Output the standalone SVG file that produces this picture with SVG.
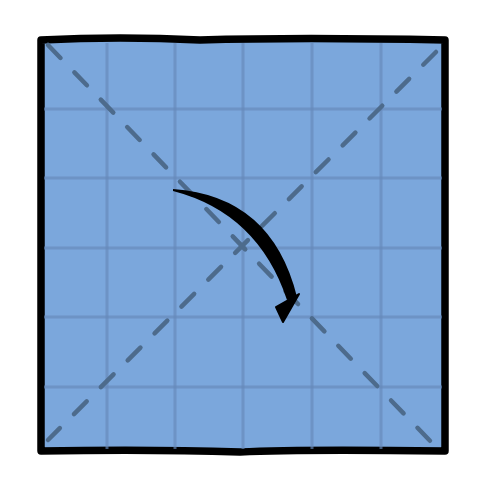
<svg xmlns="http://www.w3.org/2000/svg" width="484" height="500" viewBox="0 0 484 500">
<style>
.grid{stroke:#6688b8;stroke-width:3;fill:none;opacity:0.65}
.diag{stroke:#4d6b8c;stroke-width:4.5;stroke-linecap:round;stroke-dasharray:18 20;fill:none}
</style>
<rect width="484" height="500" fill="#ffffff"/>
<g id="square">
<path d="M41,40 Q120,36 200,40 Q300,37 445,40 L445,451 Q300,449 240,452 Q150,449 41,451 Z" fill="#7ba7dc" stroke="#000" stroke-width="7.5" stroke-linejoin="round"/>
</g>
<g id="grid">
<line class="grid" x1="107" y1="43" x2="107" y2="449"/>
<line class="grid" x1="175" y1="43" x2="175" y2="449"/>
<line class="grid" x1="243" y1="43" x2="243" y2="449"/>
<line class="grid" x1="312" y1="43" x2="312" y2="449"/>
<line class="grid" x1="381" y1="43" x2="381" y2="449"/>
<line class="grid" x1="44" y1="109" x2="442" y2="109"/>
<line class="grid" x1="44" y1="178" x2="442" y2="178"/>
<line class="grid" x1="44" y1="248" x2="442" y2="248"/>
<line class="grid" x1="44" y1="317" x2="442" y2="317"/>
<line class="grid" x1="44" y1="387" x2="442" y2="387"/>
</g>
<g id="connectors">
<line class="diag" x1="48" y1="45" x2="436" y2="447"/>
<line class="diag" x1="436" y1="52" x2="48" y2="440"/>
</g>
<g id="arrow">
<path d="M173,189 Q272,196 297,297 L287,300 Q258,213 173,191 Z" fill="#000"/>
<path d="M276,307 L299,294 L283,322 Z" fill="#000" stroke="#000" stroke-width="2" stroke-linejoin="round"/>
</g>
</svg>
